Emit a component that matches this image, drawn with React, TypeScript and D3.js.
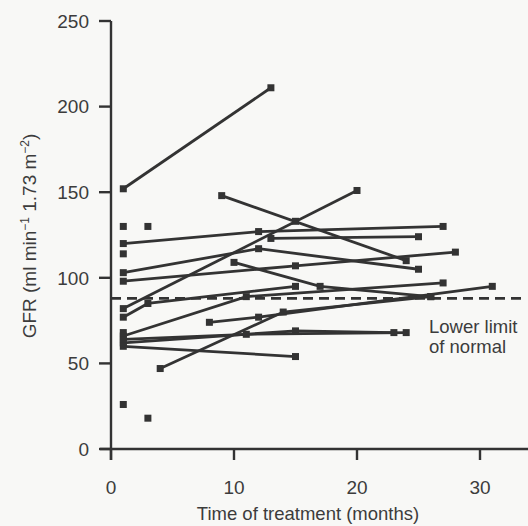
import React from 'react'
import * as d3 from 'd3'

// each patient: [months, GFR] pairs
const patients: [number, number][][] = [
  [[1, 152], [13, 211]],
  [[9, 148], [24, 110]],
  [[1, 82], [20, 151]],
  [[1, 120], [12, 127], [27, 130]],
  [[13, 123], [25, 124]],
  [[1, 103], [12, 117], [25, 105]],
  [[1, 98], [15, 107], [28, 115]],
  [[10, 109], [17, 95], [26, 89]],
  [[1, 66], [11, 89], [27, 97]],
  [[8, 74], [12, 77], [31, 95]],
  [[4, 47], [14, 80], [26, 89]],
  [[1, 64], [11, 67], [24, 68]],
  [[1, 62], [15, 69], [23, 68]],
  [[1, 60], [15, 54]],
  [[1, 77], [3, 85], [15, 95]],
]
const singles: [number, number][] = [
  [1, 130], [3, 130], [1, 114], [1, 26], [3, 18], [15, 133], [1, 68],
]
const yTicks = [0, 50, 100, 150, 200, 250]
const xTicks = [0, 10, 20, 30]
const lowerLimit = 88

export default function App() {
  const x = d3.scaleLinear().domain([0, 30]).range([111, 480])
  const y = d3.scaleLinear().domain([0, 250]).range([449, 21])
  const line = d3.line<[number, number]>().x(d => x(d[0])).y(d => y(d[1]))
  const ink = '#333'
  const txt = '#3c3c3c'
  const font = '"Liberation Sans", Arial, sans-serif'
  const allPts = patients.flat().concat(singles)

  return (
    <svg width={528} height={526} style={{ position: 'absolute', left: 0, top: 0, background: '#f8f8f6' }}
      fontFamily={font}>
      {/* axes */}
      <line x1={x(0)} x2={x(0)} y1={y(250)} y2={460} stroke={ink} strokeWidth={2.4} />
      <line x1={100} x2={528} y1={y(0)} y2={y(0)} stroke={ink} strokeWidth={2.4} />
      {yTicks.map(t => (
        <g key={'y' + t}>
          <line x1={99} x2={x(0)} y1={y(t)} y2={y(t)} stroke={ink} strokeWidth={2.4} />
          <text x={89} y={y(t)} dy="0.36em" textAnchor="end" fontSize={19} fill={txt}>{t}</text>
        </g>
      ))}
      {xTicks.map(t => (
        <g key={'x' + t}>
          <line x1={x(t)} x2={x(t)} y1={y(0)} y2={460} stroke={ink} strokeWidth={2.4} />
          <text x={x(t)} y={494} textAnchor="middle" fontSize={19} fill={txt}>{t}</text>
        </g>
      ))}
      <text x={308} y={520} textAnchor="middle" fontSize={18.5} fill={txt}>Time of treatment (months)</text>
      <text transform="translate(36,236) rotate(-90)" textAnchor="middle" fontSize={19} fill={txt}>
        GFR (ml min<tspan dy={-7} fontSize={12}>−1</tspan><tspan dy={7}> 1.73 m</tspan>
        <tspan dy={-7} fontSize={12}>−2</tspan><tspan dy={7}>)</tspan>
      </text>

      {/* lower limit of normal */}
      <line x1={x(0)} x2={523} y1={y(lowerLimit)} y2={y(lowerLimit)} stroke={ink} strokeWidth={2.6}
        strokeDasharray="10,6" />
      <text x={429} y={333} fontSize={18.5} fill={txt}>Lower limit</text>
      <text x={429} y={353} fontSize={18.5} fill={txt}>of normal</text>

      {/* patients */}
      {patients.map((p, i) => (
        <path key={'p' + i} d={line(p) || ''} fill="none" stroke={ink} strokeWidth={2.8} />
      ))}
      {allPts.map((d, i) => (
        <rect key={'m' + i} x={x(d[0]) - 3.5} y={y(d[1]) - 3.5} width={7} height={7} fill={ink} />
      ))}
    </svg>
  )
}
